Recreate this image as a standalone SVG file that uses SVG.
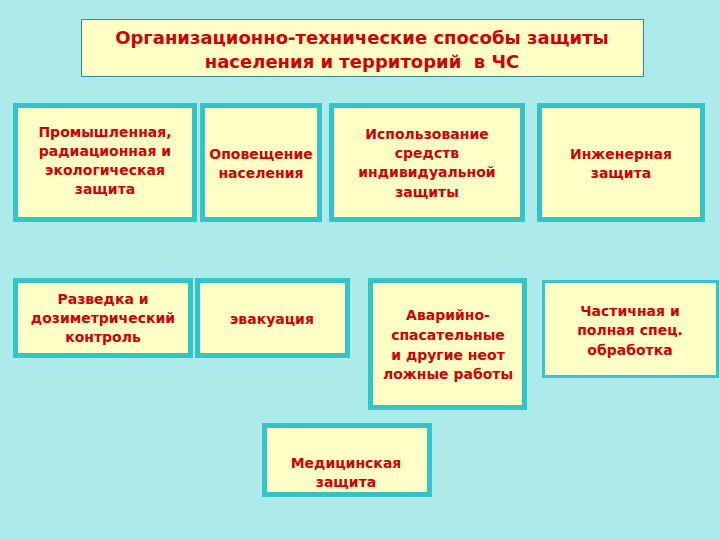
<svg xmlns="http://www.w3.org/2000/svg" width="720" height="540" viewBox="0 0 720 540">
<style>
.bx{fill:#FFFFC6;stroke:#33C4C8;stroke-width:5}
.bt{fill:#FFFFC6;stroke:#33C4C8;stroke-width:3}
.tt{fill:#FFFFC6;stroke:#2E8F8F;stroke-width:1}
text{font-family:"DejaVu Sans",Verdana,sans-serif;font-weight:bold;fill:#CC0000;text-anchor:middle}
.t{font-size:14px}
.h{font-size:18px;white-space:pre}
</style>
<rect width="720" height="540" fill="#ADEAEA"/>
<g id="title"><rect class="tt" x="81.5" y="19.5" width="562" height="57"/>
<text class="h" x="362" y="44">Организационно-технические способы защиты</text>
<text class="h" x="362" y="68" xml:space="preserve">населения и территорий  в ЧС</text></g>
<g id="n1"><rect class="bx" x="15.5" y="105.5" width="179" height="114"/>
<text class="t"><tspan x="105" y="137">Промышленная,</tspan><tspan x="105" y="156">радиационная и</tspan><tspan x="105" y="175">экологическая</tspan><tspan x="105" y="194">защита</tspan></text></g>
<g id="n2"><rect class="bx" x="202.5" y="105.5" width="117" height="114"/>
<text class="t"><tspan x="261" y="159">Оповещение</tspan><tspan x="261" y="178">населения</tspan></text></g>
<g id="n3"><rect class="bx" x="331.5" y="105.5" width="191" height="114"/>
<text class="t"><tspan x="427" y="139">Использование</tspan><tspan x="427" y="158">средств</tspan><tspan x="427" y="177">индивидуальной</tspan><tspan x="427" y="197">защиты</tspan></text></g>
<g id="n4"><rect class="bx" x="539.5" y="105.5" width="163" height="114"/>
<text class="t"><tspan x="621" y="159">Инженерная</tspan><tspan x="621" y="178">защита</tspan></text></g>
<g id="n5"><rect class="bx" x="15.5" y="280.5" width="175" height="75"/>
<text class="t"><tspan x="103" y="304">Разведка и</tspan><tspan x="103" y="323">дозиметрический</tspan><tspan x="103" y="342">контроль</tspan></text></g>
<g id="n6"><rect class="bx" x="197.5" y="280.5" width="150" height="75"/>
<text class="t"><tspan x="272" y="324">эвакуация</tspan></text></g>
<g id="n7"><rect class="bx" x="370.5" y="280.5" width="154" height="127"/>
<text class="t"><tspan x="448" y="320">Аварийно-</tspan><tspan x="448" y="340">спасательные</tspan><tspan x="448" y="360">и другие неот</tspan><tspan x="448" y="379">ложные работы</tspan></text></g>
<g id="n8"><rect class="bt" x="543.5" y="281.5" width="174" height="95"/>
<text class="t"><tspan x="630" y="316">Частичная и</tspan><tspan x="630" y="335">полная спец.</tspan><tspan x="630" y="355">обработка</tspan></text></g>
<g id="n9"><rect class="bx" x="264.5" y="425.5" width="165" height="69"/>
<text class="t"><tspan x="346" y="468">Медицинская</tspan><tspan x="346" y="487">защита</tspan></text></g>
<g id="connectors"/>
</svg>
